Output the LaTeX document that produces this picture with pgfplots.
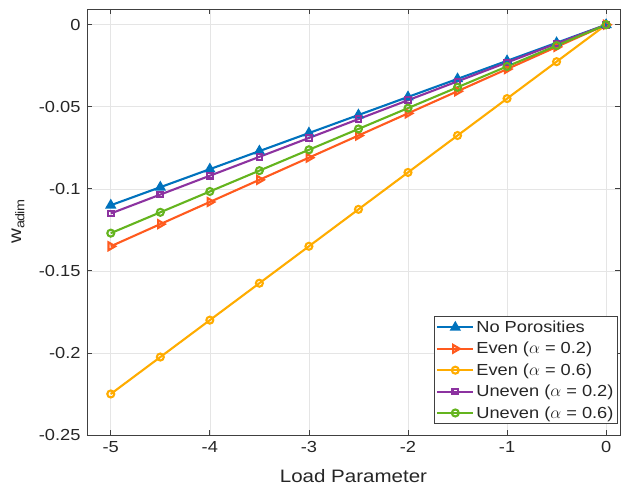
\documentclass[border=0pt]{standalone}
\usepackage{pgfplots}
\pgfplotsset{compat=1.18}
\usepackage{fontspec}
\setmainfont{Liberation Sans}[FakeStretch=1.14]
\definecolor{cblue}{RGB}{0,114,189}
\definecolor{cred}{RGB}{255,90,30}
\definecolor{cyel}{RGB}{255,172,0}
\definecolor{cpur}{RGB}{140,50,160}
\definecolor{cgrn}{RGB}{100,180,30}
\definecolor{axgray}{RGB}{64,64,64}
\definecolor{txtgray}{RGB}{38,38,38}
\begin{document}
\begin{tikzpicture}
\begin{axis}[
  name=ax,
  scale only axis, width=533pt, height=426pt,
  xmin=-5.24, xmax=0.14, ymin=-0.25, ymax=0.0096,
  xtick={-5,-4,-3,-2,-1,0},
  ytick={0,-0.05,-0.1,-0.15,-0.2,-0.25},
  scaled y ticks=false,
  yticklabel style={/pgf/number format/fixed, /pgf/number format/precision=2, xshift=-3pt},
  xticklabel style={yshift=-3pt},
  /pgf/number format/assume math mode=true,
  tick align=inside, major tick length=5pt,
  grid=major, grid style={gray!20, line width=0.6pt},
  axis line style={axgray, line width=0.8pt},
  tick style={axgray, line width=0.8pt},
  tick label style={font=\fontsize{16}{19}\selectfont, text=txtgray},
  xlabel={Load Parameter},
  ylabel={w$_{\mathrm{adim}}$},
  every axis x label/.style={at={(rel axis cs:0.5,0)}, anchor=center, yshift=-41pt, font=\fontsize{18}{22}\selectfont, text=txtgray},
  every axis y label/.style={at={(rel axis cs:0,0.5)}, anchor=center, xshift=-69pt, rotate=90, font=\fontsize{18}{22}\selectfont, text=txtgray},
  legend style={at={(rel axis cs:0.996,0.026)}, anchor=south east, font=\fontsize{16}{19}\selectfont, draw=axgray, line width=0.8pt, row sep=4.3pt, inner sep=2pt, text=txtgray},
  legend cell align=left,
  legend image code/.code={\draw[mark repeat=2,mark phase=2,#1] plot coordinates {(0pt,0pt) (18pt,0pt) (36pt,0pt)};},
  every axis plot/.append style={line width=2.1pt},
]
\addplot[cblue, mark=triangle*, mark size=4.5pt, mark options={solid, fill=cblue}] coordinates {
(-5,-0.110) (-4.5,-0.099) (-4,-0.088) (-3.5,-0.077) (-3,-0.066) (-2.5,-0.055) (-2,-0.044) (-1.5,-0.033) (-1,-0.022) (-0.5,-0.011) (0,0)};
\addlegendentry{No Porosities}
\addplot[cred, mark=triangle, mark size=4.5pt, mark options={solid, rotate=-90, fill=white}] coordinates {
(-5,-0.135) (-4.5,-0.1215) (-4,-0.108) (-3.5,-0.0945) (-3,-0.081) (-2.5,-0.0675) (-2,-0.054) (-1.5,-0.0405) (-1,-0.027) (-0.5,-0.0135) (0,0)};
\addlegendentry{Even ($\alpha$ = 0.2)}
\addplot[cyel, mark=o, mark size=3.5pt, mark options={solid}] coordinates {
(-5,-0.225) (-4.5,-0.2025) (-4,-0.18) (-3.5,-0.1575) (-3,-0.135) (-2.5,-0.1125) (-2,-0.09) (-1.5,-0.0675) (-1,-0.045) (-0.5,-0.0225) (0,0)};
\addlegendentry{Even ($\alpha$ = 0.6)}
\addplot[cpur, mark=square, mark size=2.8pt, mark options={solid}] coordinates {
(-5,-0.115) (-4.5,-0.1035) (-4,-0.092) (-3.5,-0.0805) (-3,-0.069) (-2.5,-0.0575) (-2,-0.046) (-1.5,-0.0345) (-1,-0.023) (-0.5,-0.0115) (0,0)};
\addlegendentry{Uneven ($\alpha$ = 0.2)}
\addplot[cgrn, mark=o, mark size=3.5pt, mark options={solid}] coordinates {
(-5,-0.127) (-4.5,-0.1143) (-4,-0.1016) (-3.5,-0.0889) (-3,-0.0762) (-2.5,-0.0635) (-2,-0.0508) (-1.5,-0.0381) (-1,-0.0254) (-0.5,-0.0127) (0,0)};
\addlegendentry{Uneven ($\alpha$ = 0.6)}
\end{axis}
\path ([xshift=-87pt,yshift=-52pt]ax.south west) rectangle ([xshift=5pt,yshift=9pt]ax.north east);
\end{tikzpicture}
\end{document}
